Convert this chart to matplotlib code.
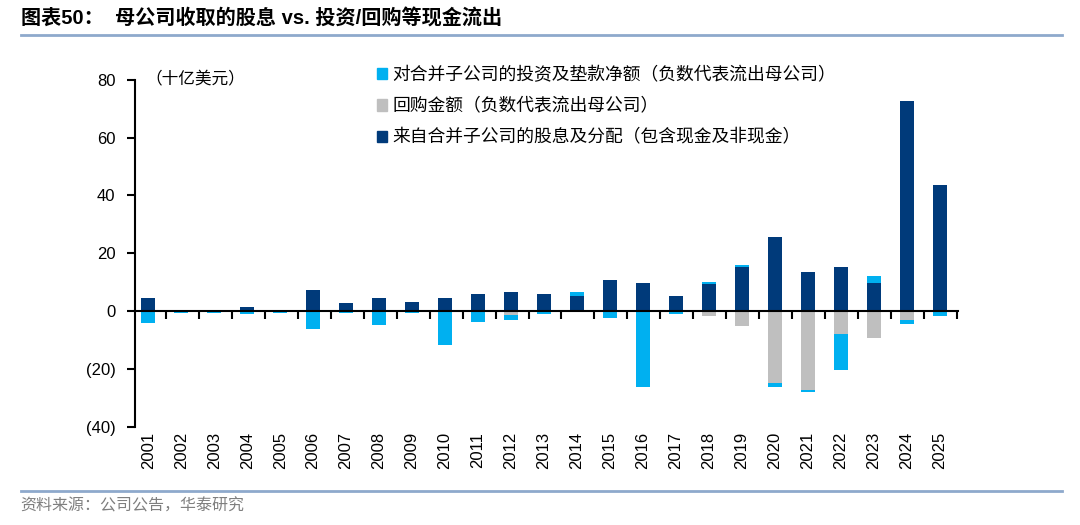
import matplotlib
matplotlib.use("Agg")
import matplotlib.pyplot as plt
import numpy as np
from matplotlib.patches import Patch
from matplotlib.lines import Line2D
from matplotlib import transforms

plt.rcParams['font.family'] = ['Liberation Sans', 'Noto Sans CJK SC', 'DejaVu Sans']

# DATA (billions USD)
years = [str(y) for y in range(2001, 2026)]
dividends = [4.6, 0, 0, 1.3, 0, 7.3, 2.7, 4.6, 3.3, 4.6, 6.0, 6.7, 5.9,
             5.1, 10.6, 9.9, 5.1, 9.4, 15.4, 25.7, 13.4, 15.4, 9.9, 72.6, 43.7]
investments = [-4.2, -0.8, -0.8, -0.9, -0.8, -6.3, -0.8, -4.9, -0.8, -11.8, -3.7, -1.4, -1.0,
               1.5, -2.3, -26.3, -1.0, 0.6, 0.7, -1.3, -0.7, -12.3, 2.1, -1.4, -1.7]
buybacks = [0, 0, 0, 0, 0, 0, 0, 0, 0, 0, 0, -1.5, 0,
            0, 0, 0, 0, -1.8, -5.1, -25.0, -27.1, -7.9, -9.2, -3.0, 0]
yticks = [80, 60, 40, 20, 0, -20, -40]
ytick_labels = ["80", "60", "40", "20", "0", "(20)", "(40)"]

labels = ["对合并子公司的投资及垫款净额（负数代表流出母公司）",
          "回购金额（负数代表流出母公司）",
          "来自合并子公司的股息及分配（包含现金及非现金）"]
c_light = "#00B0F0"
c_grey = "#BFBFBF"
c_dark = "#003A7A"

cjk = ['Noto Sans CJK SC', 'DejaVu Sans']

# FIGURE
fig = plt.figure(figsize=(10.8, 5.25), dpi=100)
ax = fig.add_axes([0.125, 0.187, 0.762, 0.661])

x = np.arange(len(years))
inv = np.array(investments)
div = np.array(dividends)
bb = np.array(buybacks)
inv_bottom = np.where(inv >= 0, div, bb)
w = 0.42

ax.bar(x, div, w, color=c_dark, zorder=2)
ax.bar(x, bb, w, color=c_grey, zorder=2)
ax.bar(x, inv, w, bottom=inv_bottom, color=c_light, zorder=2)

ax.set_xlim(-0.4, 24.55)
ax.set_ylim(-40, 80)
ax.set_yticks(yticks)
ax.set_yticklabels(ytick_labels, fontsize=12)
ax.tick_params(axis='y', direction='out', length=6, width=1.5, pad=8)

for s in ["top", "right"]:
    ax.spines[s].set_visible(False)
ax.spines["left"].set_linewidth(1.5)
ax.spines["bottom"].set_position(("data", 0))
ax.spines["bottom"].set_linewidth(1.5)
ax.set_xticks(x + 0.53)
ax.set_xticklabels([])
ax.tick_params(axis='x', direction='out', length=6, width=1.5)

# year labels at the bottom
trans = transforms.blended_transform_factory(ax.transData, ax.transAxes)
for xi, yr in zip(x, years):
    ax.text(xi, -0.015, yr, transform=trans, rotation=90, ha='center', va='top', fontsize=12)

ax.text(0.012, 80, "（十亿美元）", fontsize=12, family=cjk, va='center', ha='left',
        transform=transforms.blended_transform_factory(ax.transAxes, ax.transData))

handles = [Patch(color=c_light), Patch(color=c_grey), Patch(color=c_dark)]
leg = fig.legend(handles, labels, loc="upper left", bbox_to_anchor=(0.334, 0.905),
                 frameon=False, handlelength=0.6, handleheight=0.6, handletextpad=0.3,
                 labelspacing=0.75, prop={'family': cjk, 'size': 12.8})

# title, rules and source
fig.text(0.019, 0.965, "图表50：  母公司收取的股息 vs. 投资/回购等现金流出", fontsize=14.5,
         fontweight='bold', family=['Liberation Sans', 'Noto Sans CJK SC'], va='center', ha='left')
fig.add_artist(Line2D([0.019, 0.983], [0.933, 0.933], color="#8EA9CC", linewidth=2))
fig.add_artist(Line2D([0.019, 0.983], [0.065, 0.065], color="#8EA9CC", linewidth=2))
fig.text(0.019, 0.036, "资料来源：公司公告，华泰研究", fontsize=11.5, color="#7F7F7F",
         family=cjk, va='center', ha='left')

fig.savefig("out.png", dpi=100)
